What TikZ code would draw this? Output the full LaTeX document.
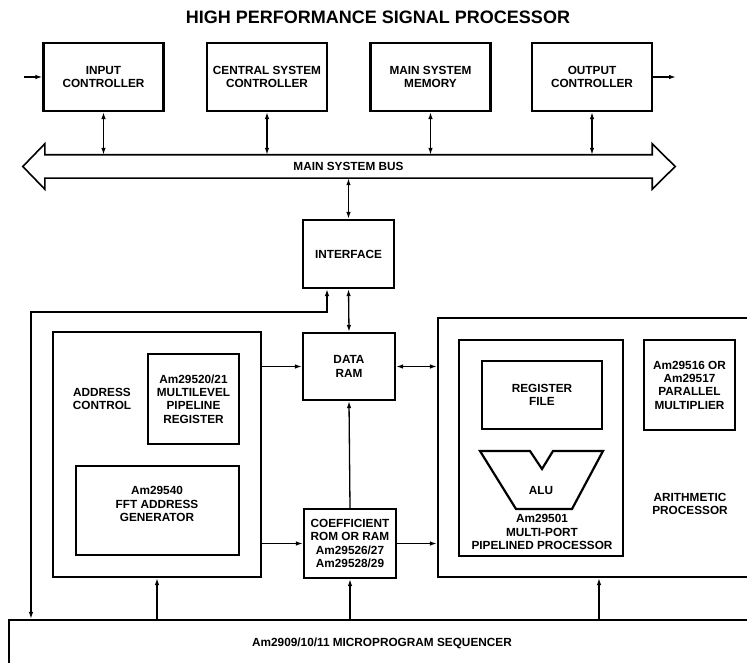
\documentclass[tikz,border=0pt]{standalone}
\usepackage{fontspec}
\setmainfont{Liberation Sans}
\usetikzlibrary{arrows.meta}
\newcommand{\lblfont}{\bfseries\fontsize{11.8}{13.3}\selectfont}
\begin{document}
\begin{tikzpicture}[x=1pt,y=-1pt,
  box/.style={draw, line width=2.2pt, inner sep=2pt, align=center, font=\lblfont},
  txt/.style={inner sep=0pt, align=center, font=\lblfont},
  conn/.style={line width=1.3pt, -{Latex[length=7pt,width=4.5pt]}},
  dconn/.style={line width=1.3pt, {Latex[length=7pt,width=4.5pt]}-{Latex[length=7pt,width=4.5pt]}},
  busline/.style={line width=1.6pt, line join=miter}]
\useasboundingbox (0,0) rectangle (747,663);
\clip (0,0) rectangle (747,663);

% title
\node[inner sep=0pt, font=\bfseries\fontsize{18}{20}\selectfont] (title) at (378,17) {HIGH PERFORMANCE SIGNAL PROCESSOR};

% top boxes
\node[box, minimum width=120pt, minimum height=68pt] (inp) at (103.5,77) {INPUT\\CONTROLLER};
\node[box, minimum width=120pt, minimum height=68pt] (cen) at (267,77) {CENTRAL SYSTEM\\CONTROLLER};
\node[box, minimum width=120pt, minimum height=68pt] (mem) at (430.5,77) {MAIN SYSTEM\\MEMORY};
\node[box, minimum width=120pt, minimum height=68pt] (outc) at (592,77) {OUTPUT\\CONTROLLER};

% bus
\node[txt, minimum width=607pt, minimum height=23pt] (bus) at (348.5,166.5) {MAIN SYSTEM BUS};
\draw[busline] (bus.north west) -- (bus.north east) -- ([yshift=11pt]bus.north east)
  -- ([xshift=23pt]bus.east) -- ([yshift=-11pt]bus.south east) -- (bus.south east)
  -- (bus.south west) -- ([yshift=-11pt]bus.south west) -- ([xshift=-22pt]bus.west)
  -- ([yshift=11pt]bus.north west) -- cycle;

\coordinate (inarrow) at (24,77);
\draw[conn] (inarrow) -- (inp.west);
\coordinate (outarrow) at (676,77);
\draw[conn] (outc.east) -- (outarrow);

\foreach \n in {inp,cen,mem,outc}
  \draw[dconn] (\n.south) -- (\n.south |- bus.north);

% interface and data ram
\node[box, minimum width=91pt, minimum height=68pt] (iface) at (348.5,254) {INTERFACE};
\draw[dconn] (bus.south) -- (iface.north);
\node[box, minimum width=92pt, minimum height=67pt] (dram) at (349,366.5) {DATA\\RAM};
\draw[dconn] (iface.south) -- (dram.north);

% address control
\node[box, minimum width=208pt, minimum height=245pt] (addr) at (157,454.5) {};
\node[txt] (addrlbl) at (102,399) {ADDRESS\\CONTROL};
\node[box, minimum width=91pt, minimum height=90pt] (pipe) at (193.5,399) {Am29520/21\\MULTILEVEL\\PIPELINE\\REGISTER};
\node[box, minimum width=163pt, minimum height=89pt] (fft) at (157.5,510.5) {};
\node[txt] (fftlbl) at (157,504) {Am29540\\FFT ADDRESS\\GENERATOR};

% coefficient
\node[box, minimum width=92pt, minimum height=69pt, inner sep=1pt] (coef) at (350,543.5) {COEFFICIENT\\ROM OR RAM\\Am29526/27\\Am29528/29};

% arithmetic processor
\node[box, minimum width=322pt, minimum height=259pt] (arith) at (599,447.5) {};
\node[box, minimum width=164pt, minimum height=216pt] (alup) at (541,448) {};
\node[box, minimum width=120pt, minimum height=68pt] (reg) at (542,395) {REGISTER\\FILE};
\draw[line width=2.2pt, line join=miter] (480,451) -- (530,451) -- (542,469) -- (553,451) -- (603,451) -- (572,509) -- (516,509) -- cycle;
\node[txt] (alu) at (541,490) {ALU};
\node[txt] (alulbl) at (542,532) {Am29501\\MULTI-PORT\\PIPELINED PROCESSOR};
\node[box, minimum width=91pt, minimum height=90pt] (mult) at (689.5,385) {Am29516 OR\\Am29517\\PARALLEL\\MULTIPLIER};
\node[txt] (arithlbl) at (690,504) {ARITHMETIC\\PROCESSOR};

% sequencer
\node[box, minimum width=751pt, minimum height=60pt] (seq) at (384.5,650) {};
\node[txt] (seqlbl) at (382,643) {Am2909/10/11 MICROPROGRAM SEQUENCER};

% connectors
\draw[conn] (addr.east |- dram.west) -- (dram.west);
\draw[conn] (addr.east |- coef.west) -- (coef.west);
\draw[conn] (coef.north) -- (dram.south);
\draw[conn] (coef.east) -- (coef.east -| arith.west);
\draw[dconn] (dram.east) -- (dram.east -| arith.west);
\draw[conn] (seq.north -| addr.south) -- (addr.south);
\draw[conn] (seq.north -| coef.south) -- (coef.south);
\draw[conn] (seq.north -| arith.south) -- (arith.south);

\coordinate (loopR) at (327,312);
\coordinate (loopL) at (31,312);
\draw[dconn] (seq.north -| loopL) -- (loopL) -- (loopR) -- (iface.south -| loopR);
\end{tikzpicture}
\end{document}
